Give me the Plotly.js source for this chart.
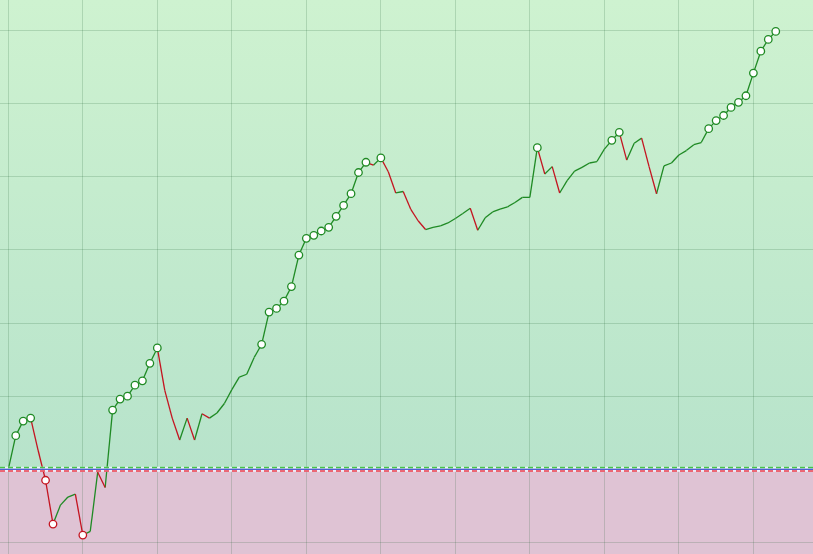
<!DOCTYPE html>
<html>
<head>
<meta charset="utf-8">
<script src="https://cdn.plot.ly/plotly-3.0.1.min.js"></script>
<style>
html,body{margin:0;padding:0;background:#fff;}
#chart{width:813px;height:554px;background:linear-gradient(to bottom,#cef2d0 0%,#b7e3cb 85%,#b7e3cb 100%);}
</style>
</head>
<body>
<div id="chart"></div>
<script>
// Equity curve values (one per step)
const steps = Array.from({length: 104}, (_, i) => i);
const equity = [
  0, 4.6, 6.6, 7.0, 2.6, -1.5, -7.5, -4.9, -3.8, -3.4,
  -9.0, -8.5, -0.4, -2.5, 8.1, 9.6, 10.0, 11.5, 12.1, 14.5,
  16.6, 10.8, 7.0, 4.0, 7.0, 4.0, 7.6, 7.0, 7.7, 9.0,
  10.9, 12.6, 13.0, 15.3, 17.1, 21.5, 22.0, 23.0, 25.0, 29.3,
  31.6, 32.0, 32.6, 33.1, 34.6, 36.1, 37.7, 40.6, 42.0, 41.6,
  42.6, 40.7, 37.8, 38.0, 35.6, 34.0, 32.8, 33.1, 33.3, 33.7,
  34.3, 35.0, 35.7, 32.7, 34.4, 35.2, 35.6, 35.9, 36.5, 37.2,
  37.2, 44.0, 40.4, 41.4, 37.8, 39.5, 40.8, 41.3, 41.9, 42.1,
  43.8, 45.0, 46.1, 42.3, 44.6, 45.3, 41.4, 37.7, 41.5, 41.9,
  43.0, 43.6, 44.4, 44.7, 46.6, 47.7, 48.4, 49.5, 50.2, 51.1,
  54.2, 57.2, 58.8, 59.9
];

const GREEN = '#1f8a24';
const RED = '#c41420';

// Split into rising (green) and falling (red) segments
const gx = [], gy = [], rx = [], ry = [];
for (let i = 0; i < equity.length - 1; i++) {
  const up = equity[i + 1] >= equity[i];
  (up ? gx : rx).push(steps[i], steps[i + 1], null);
  (up ? gy : ry).push(equity[i], equity[i + 1], null);
}

// New highs / new lows markers
const hx = [], hy = [], lx = [], ly = [];
let hi = equity[0], lo = equity[0];
for (let i = 1; i < equity.length; i++) {
  if (equity[i] > hi) { hi = equity[i]; hx.push(steps[i]); hy.push(equity[i]); }
  if (equity[i] < lo) { lo = equity[i]; lx.push(steps[i]); ly.push(equity[i]); }
}

const traces = [
  {x: gx, y: gy, mode: 'lines', line: {color: GREEN, width: 1.3}, hoverinfo: 'skip', connectgaps: false},
  {x: rx, y: ry, mode: 'lines', line: {color: RED, width: 1.3}, hoverinfo: 'skip', connectgaps: false},
  {x: hx, y: hy, mode: 'markers', marker: {size: 7.5, color: '#ffffff', line: {color: GREEN, width: 1.3}}, hoverinfo: 'skip'},
  {x: lx, y: ly, mode: 'markers', marker: {size: 7.5, color: '#ffffff', line: {color: RED, width: 1.3}}, hoverinfo: 'skip'}
];

const gridColor = 'rgba(30,95,50,0.19)';
const OFF = 0.25; // ~1.8 px in data units
const layout = {
  width: 813, height: 554,
  margin: {l: 0, r: 0, t: 0, b: 0, pad: 0},
  paper_bgcolor: 'rgba(0,0,0,0)',
  plot_bgcolor: 'rgba(0,0,0,0)',
  showlegend: false,
  xaxis: {range: [-1.114, 108.0], dtick: 10, tick0: 0, showgrid: true, gridcolor: gridColor, gridwidth: 1,
          zeroline: false, showticklabels: false, ticks: '', showline: false, fixedrange: true},
  yaxis: {range: [-11.59, 64.2], dtick: 10, tick0: 0, showgrid: true, gridcolor: gridColor, gridwidth: 1,
          zeroline: false, showticklabels: false, ticks: '', showline: false, fixedrange: true},
  shapes: [
    {type: 'rect', xref: 'paper', x0: 0, x1: 1, yref: 'y', y0: -100, y1: 0, layer: 'below',
     fillcolor: '#dfc3d4', line: {width: 0}},
    {type: 'line', xref: 'paper', x0: 0, x1: 1, yref: 'y', y0: 0, y1: 0, layer: 'above',
     line: {color: 'rgba(240,248,255,0.85)', width: 5}},
    {type: 'line', xref: 'paper', x0: 0, x1: 1, yref: 'y', y0: OFF, y1: OFF, layer: 'above',
     line: {color: '#48c448', width: 1.5, dash: '5px,3px'}},
    {type: 'line', xref: 'paper', x0: 0, x1: 1, yref: 'y', y0: -OFF, y1: -OFF, layer: 'above',
     line: {color: '#ec3c4c', width: 1.5, dash: '5px,3px'}},
    {type: 'line', xref: 'paper', x0: 0, x1: 1, yref: 'y', y0: 0, y1: 0, layer: 'above',
     line: {color: '#1a2fc8', width: 1.1}}
  ]
};

Plotly.newPlot('chart', traces, layout, {staticPlot: true, displayModeBar: false});
</script>
</body>
</html>
